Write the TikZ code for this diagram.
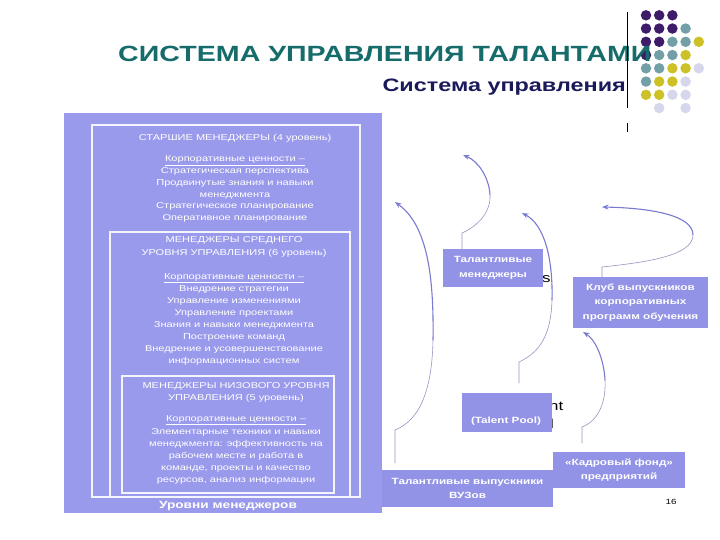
\documentclass[tikz,border=0pt]{standalone}
\usepackage{fontspec}
\setmainfont{Liberation Sans}[FakeStretch=1.3]
\usetikzlibrary{arrows.meta}
\definecolor{panelc}{RGB}{154,154,236}
\definecolor{boxc}{RGB}{146,146,230}
\definecolor{framec}{RGB}{244,244,255}
\definecolor{titlec}{RGB}{22,108,106}
\definecolor{subc}{RGB}{26,26,90}
\definecolor{arrc}{RGB}{122,122,208}
\definecolor{arrthinc}{RGB}{150,150,195}
\definecolor{dP}{RGB}{62,28,106}
\definecolor{dT}{RGB}{115,160,168}
\definecolor{dY}{RGB}{204,194,40}
\definecolor{dL}{RGB}{214,214,236}
\begin{document}
\begin{tikzpicture}[x=1pt,y=-1pt,
  lt/.style={text=white, font=\fontsize{8.5}{12}\selectfont, inner sep=0pt, anchor=base},
  boxnode/.style={fill=boxc, draw=none, inner sep=0pt, text=white, font=\fontsize{9}{14.5}\selectfont\bfseries, align=center},
  framebox/.style={draw=framec, line width=1.3pt},
  arr/.style={draw=arrc, line width=1.1pt, -{Stealth[length=6.5pt,width=5pt]}},
  arrthin/.style={draw=arrthinc, line width=0.6pt},
  dot/.style={circle, inner sep=0pt, minimum size=10.5pt, draw=none},
  frag/.style={font=\fontsize{13}{15}\selectfont, anchor=base west, inner sep=0pt, text=black}]
\useasboundingbox (0,0) rectangle (720,540);
\fill[white] (0,0) rectangle (720,540);

% dot grid
\foreach \r/\c/\k in {0/0/dP,0/1/dP,0/2/dP,
  1/0/dP,1/1/dP,1/2/dP,1/3/dT,
  2/0/dP,2/1/dP,2/2/dT,2/3/dT,2/4/dY,
  3/0/dP,3/1/dT,3/2/dT,3/3/dY,
  4/0/dT,4/1/dT,4/2/dY,4/3/dY,4/4/dL,
  5/0/dT,5/1/dY,5/2/dY,5/3/dL,
  6/0/dY,6/1/dY,6/2/dL,6/3/dL,
  7/1/dL,7/3/dL}
  \node[dot, fill=\k] (d\r\c) at ({646+13.2*\c},{15.3+13.25*\r}) {};

% titles
\node[anchor=base west, inner sep=0pt, text=titlec, font=\fontsize{22}{26}\selectfont\bfseries] (title) at (118,62) {СИСТЕМА УПРАВЛЕНИЯ ТАЛАНТАМИ};
\node[anchor=base east, inner sep=0pt, text=subc, font=\fontsize{18}{22}\selectfont\bfseries] (subtitle) at (626,92) {Система управления};
\draw[line width=0.8pt] (627,12) -- (627,108);
\draw[line width=0.8pt] (627,123) -- (627,132);

% left panel
\fill[panelc] (64,113) rectangle (382,513);
\draw[framebox] (92,125) rectangle (360,497);
\draw[framebox] (110,232) rectangle (350,497);
\draw[framebox] (122,376) rectangle (334,493);

\foreach \y/\t [count=\i] in {
  141/{СТАРШИЕ МЕНЕДЖЕРЫ (4 уровень)},
  162/{\underline{Корпоративные ценности –}},
  174/{Стратегическая перспектива},
  186/{Продвинутые знания и навыки},
  197/{менеджмента},
  209/{Стратегическое планирование},
  221/{Оперативное планирование}}
  \node[lt] (la\i) at (235,\y) {\t};

\foreach \y/\t [count=\i] in {
  243/{МЕНЕДЖЕРЫ СРЕДНЕГО},
  255/{УРОВНЯ УПРАВЛЕНИЯ (6 уровень)},
  279/{\underline{Корпоративные ценности –}},
  291/{Внедрение стратегии},
  303/{Управление изменениями},
  315/{Управление проектами},
  327/{Знания и навыки менеджмента},
  339/{Построение команд},
  351/{Внедрение и усовершенствование},
  363/{информационных систем}}
  \node[lt] (lb\i) at (234,\y) {\t};

\foreach \y/\t [count=\i] in {
  388/{МЕНЕДЖЕРЫ НИЗОВОГО УРОВНЯ},
  400/{УПРАВЛЕНИЯ (5 уровень)},
  421/{\underline{Корпоративные ценности –}},
  434/{Элементарные техники и навыки},
  446/{менеджмента: эффективность на},
  458/{рабочем месте и работа в},
  470/{команде, проекты и качество},
  482/{ресурсов, анализ информации}}
  \node[lt] (lc\i) at (236,\y) {\t};

\node[anchor=base, inner sep=0pt, text=white, font=\fontsize{10.5}{12}\selectfont\bfseries] (lvl) at (228,508) {Уровни менеджеров};

% black fragments
\node[frag] (fs) at (542,282) {s};
\node[frag] (fnt) at (549,410) {nt};
\node[frag] (fl) at (550,428) {l};

% boxes
\node[boxnode, minimum width=100pt, minimum height=38pt] (tm) at (493,268) {Талантливые\\менеджеры};
\node[boxnode, minimum width=135pt, minimum height=51pt] (club) at (640.5,302.5) {Клуб выпускников\\корпоративных\\программ обучения};
\node[boxnode, minimum width=90pt, minimum height=39pt] (tp) at (507,412.5) {};
\node[anchor=base, inner sep=0pt, text=white, font=\fontsize{9}{14.5}\selectfont\bfseries] (tpt) at (506,423.5) {(Talent Pool)};
\node[boxnode, minimum width=171pt, minimum height=37pt] (vuz) at (467.5,488.5) {Талантливые выпускники\\ВУЗов};
\node[boxnode, minimum width=132pt, minimum height=36pt] (kf) at (619,470) {«Кадровый фонд»\\предприятий};

\node[anchor=base, inner sep=0pt, font=\fontsize{7.5}{9}\selectfont] (pn) at (671,504) {16};

% arrows
\coordinate (aA) at (462,233); \coordinate (mA) at (490,195); \coordinate (tA) at (463,155);
\draw[arrthin] (tm.north -| aA) -- (aA) .. controls (478,226) and (491,212) .. (mA);
\draw[arr] (mA) .. controls (489,177) and (478,161) .. (tA);

\coordinate (sB) at (395,463); \coordinate (aB) at (395,430); \coordinate (mB) at (433,340); \coordinate (tB) at (395,202);
\draw[arrthin] (sB) -- (aB) .. controls (420,420) and (432,390) .. (mB);
\draw[arr] (mB) .. controls (434,275) and (427,225) .. (tB);

\coordinate (sC) at (519,383); \coordinate (aC) at (519,362); \coordinate (mC) at (552,300); \coordinate (tC) at (522,213);
\draw[arrthin] (sC) -- (aC) .. controls (540,352) and (551,335) .. (mC);
\draw[arr] (mC) .. controls (553,260) and (545,225) .. (tC);

\coordinate (aD) at (602,267); \coordinate (mD) at (693,235); \coordinate (tD) at (602,207);
\draw[arrthin] (club.north -| aD) -- (aD) .. controls (650,262) and (693,255) .. (mD);
\draw[arr] (mD) .. controls (693,215) and (650,208) .. (tD);

\coordinate (sE) at (582,443); \coordinate (aE) at (582,427); \coordinate (mE) at (605,380); \coordinate (tE) at (583,332);
\draw[arrthin] (sE) -- (aE) .. controls (600,420) and (606,400) .. (mE);
\draw[arr] (mE) .. controls (604,360) and (596,340) .. (tE);
\end{tikzpicture}
\end{document}
